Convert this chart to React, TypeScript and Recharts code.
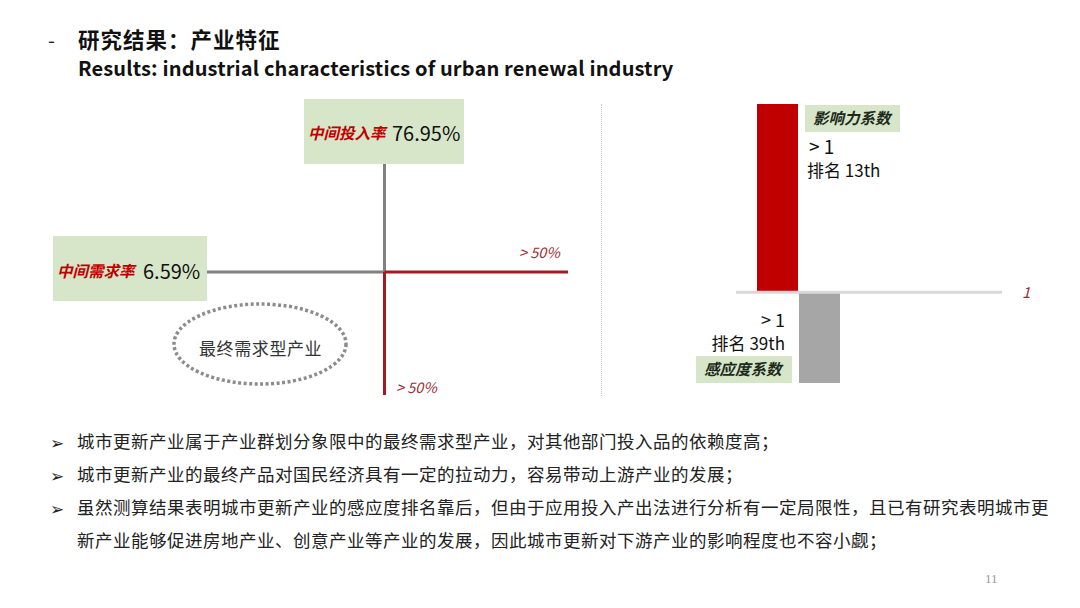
import React from 'react';
import { ScatterChart, Scatter, BarChart, Bar, Cell, XAxis, YAxis, ReferenceLine } from 'recharts';

// ---- data ----
const titleCn = '研究结果：产业特征';
const titleEn = 'Results: industrial characteristics of urban renewal industry';
const rateNames = ['中间投入率', '中间需求率'];
const rateValues = ['76.95%', '6.59%'];
const rateThreshold = 50;
const thresholdLabel = '> 50%';
const quadrantName = '最终需求型产业';
const coefNames = ['影响力系数', '感应度系数'];
const coefRanges = [[1, 1.83], [0.6, 1]];
const coefBaseline = 1;
const coefNotes = ['> 1', '> 1'];
const coefRanks = ['排名 13th', '排名 39th'];
const bullets = [
  '城市更新产业属于产业群划分象限中的最终需求型产业，对其他部门投入品的依赖度高；',
  '城市更新产业的最终产品对国民经济具有一定的拉动力，容易带动上游产业的发展；',
  '虽然测算结果表明城市更新产业的感应度排名靠后，但由于应用投入产出法进行分析有一定局限性，且已有研究表明城市更',
  '新产业能够促进房地产业、创意产业等产业的发展，因此城市更新对下游产业的影响程度也不容小觑；',
];
const pageNo = '11';

const barData = coefNames.map((n, i) => ({ name: n, range: coefRanges[i] }));
const crossPoint = [{ x: rateThreshold, y: rateThreshold }];

const CJK = '"Noto Sans CJK SC", "Noto Sans", sans-serif';
const GREEN = '#d7e6c8';
const RED = '#c00000';
const DARKRED = '#9b2d35';

const T = ({ x, y, children, style, right }: any) => (
  <div
    style={{
      position: 'absolute',
      left: x,
      top: y,
      transform: right ? 'translate(-100%, -50%)' : 'translateY(-50%)',
      whiteSpace: 'nowrap',
      lineHeight: 1,
      fontFamily: CJK,
      ...style,
    }}
  >
    {children}
  </div>
);

const Box = ({ x, y, w, h }: any) => (
  <div style={{ position: 'absolute', left: x, top: y, width: w, height: h, background: GREEN }} />
);

export default function App() {
  return (
    <div style={{ position: 'absolute', left: 0, top: 0, width: 1080, height: 608, background: '#fff', overflow: 'hidden' }}>
      {/* Title */}
      <T x={48} y={40} style={{ fontSize: 20, color: '#222' }}>-</T>
      <T x={78} y={39} style={{ fontSize: 21.5, fontWeight: 700, color: '#111', letterSpacing: 1 }}>{titleCn}</T>
      <T x={78} y={68} style={{ fontSize: 20, fontWeight: 700, color: '#111', letterSpacing: 0.15 }}>{titleEn}</T>

      {/* Left quadrant chart */}
      <div style={{ position: 'absolute', left: 0, top: 0 }}>
        <ScatterChart width={600} height={420} margin={{ left: 201, right: 32, top: 149, bottom: 25 }}>
          <XAxis type="number" dataKey="x" domain={[0, 100]} hide />
          <YAxis type="number" dataKey="y" domain={[0, 100]} hide />
          <ReferenceLine segment={[{ x: 0, y: rateThreshold }, { x: rateThreshold, y: rateThreshold }]} stroke="#808080" strokeWidth={3} />
          <ReferenceLine segment={[{ x: rateThreshold, y: rateThreshold }, { x: rateThreshold, y: 100 }]} stroke="#808080" strokeWidth={3} />
          <ReferenceLine segment={[{ x: rateThreshold, y: rateThreshold }, { x: 100, y: rateThreshold }]} stroke="#a01c22" strokeWidth={3} />
          <ReferenceLine segment={[{ x: rateThreshold, y: 0 }, { x: rateThreshold, y: rateThreshold }]} stroke="#a01c22" strokeWidth={3} />
          <Scatter data={crossPoint} fill="transparent" isAnimationActive={false} />
        </ScatterChart>
      </div>
      <svg style={{ position: 'absolute', left: 0, top: 0 }} width={600} height={420}>
        <ellipse cx={260} cy={344} rx={86} ry={40} fill="none" stroke="#8c8c8c" strokeWidth={3.5} strokeDasharray="3 2.5" />
      </svg>
      <T x={199} y={347} style={{ fontSize: 17, color: '#333', letterSpacing: 0.6 }}>{quadrantName}</T>

      <Box x={304} y={99} w={160} h={65} />
      <T x={308} y={133} style={{ fontSize: 15.5, fontWeight: 700, fontStyle: 'italic', color: RED }}>{rateNames[0]}</T>
      <T x={392} y={133} style={{ fontSize: 20, color: '#111' }}>{rateValues[0]}</T>

      <Box x={53} y={236} w={154} h={65} />
      <T x={57} y={271} style={{ fontSize: 15.5, fontWeight: 700, fontStyle: 'italic', color: RED }}>{rateNames[1]}</T>
      <T x={143} y={271} style={{ fontSize: 20, color: '#111' }}>{rateValues[1]}</T>

      <T x={519} y={252} style={{ fontSize: 14.5, fontStyle: 'italic', color: DARKRED }}>{thresholdLabel}</T>
      <T x={396} y={387} style={{ fontSize: 14.5, fontStyle: 'italic', color: DARKRED }}>{thresholdLabel}</T>

      {/* separator */}
      <div style={{ position: 'absolute', left: 601, top: 104, height: 292, borderLeft: '1px dotted #c8c8c8' }} />

      {/* Right bar chart */}
      <div style={{ position: 'absolute', left: 600, top: 0 }}>
        <BarChart width={480} height={420} data={barData} margin={{ left: 136, right: 78, top: 104, bottom: 37 }} barCategoryGap={0}>
          <XAxis dataKey="name" hide padding={{ left: 20, right: 162 }} />
          <YAxis type="number" domain={[0.6, 1.83]} hide />
          <Bar dataKey="range" barSize={41} isAnimationActive={false}>
            <Cell fill={RED} />
            <Cell fill="#a6a6a6" />
          </Bar>
          <ReferenceLine
            y={coefBaseline}
            stroke="#d9d9d9"
            strokeWidth={3}
            label={{ value: String(coefBaseline), position: 'right', offset: 20, fill: DARKRED, fontStyle: 'italic', fontSize: 15, fontFamily: CJK }}
          />
        </BarChart>
      </div>

      <Box x={805} y={105} w={95} h={27} />
      <T x={813} y={118} style={{ fontSize: 15.5, fontWeight: 700, fontStyle: 'italic', color: '#1c2a1c' }}>{coefNames[0]}</T>
      <T x={809} y={145} style={{ fontSize: 19, color: '#111' }}>{coefNotes[0]}</T>
      <T x={807} y={169} style={{ fontSize: 17, color: '#111' }}>{coefRanks[0]}</T>

      <T x={785} y={319} right style={{ fontSize: 18, color: '#111' }}>{coefNotes[1]}</T>
      <T x={785} y={342} right style={{ fontSize: 17, color: '#111' }}>{coefRanks[1]}</T>
      <Box x={696} y={356} w={96} h={27} />
      <T x={704} y={369} style={{ fontSize: 15.5, fontWeight: 700, fontStyle: 'italic', color: '#1c2a1c' }}>{coefNames[1]}</T>

      {/* bullets */}
      {bullets.map((b, i) => (
        <React.Fragment key={i}>
          {i !== 3 && <T x={50} y={441 + i * 33} style={{ fontSize: 17, color: '#222' }}>➢</T>}
          <T x={77} y={441 + i * 33} style={{ fontSize: 17.5, color: '#222', letterSpacing: 0.5 }}>{b}</T>
        </React.Fragment>
      ))}

      <T x={985} y={578} style={{ fontSize: 13, color: '#999', fontFamily: '"Liberation Serif", serif' }}>{pageNo}</T>
    </div>
  );
}
